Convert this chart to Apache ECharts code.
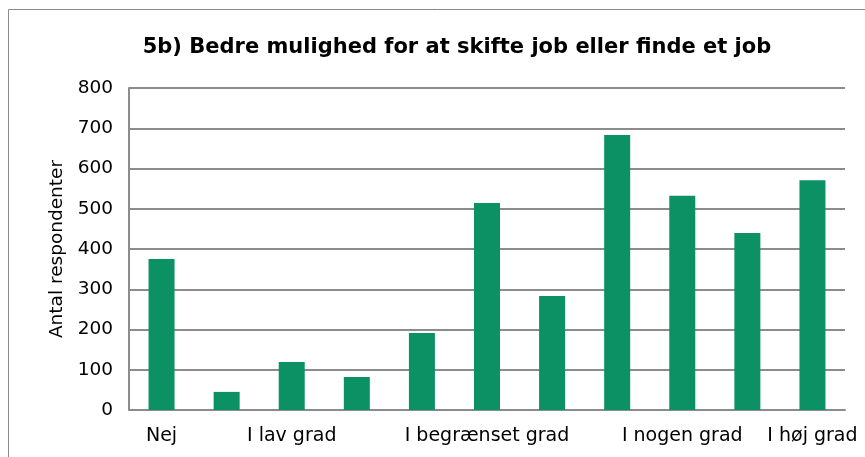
<!DOCTYPE html>
<html>
<head>
<meta charset="utf-8">
<script src="https://cdn.jsdelivr.net/npm/echarts@6/dist/echarts.min.js"></script>
<style>
  html, body { margin: 0; padding: 0; background: #fff; }
  #chart { width: 865px; height: 457px; }
</style>
</head>
<body>
<div id="chart"></div>
<script>
  // skala 0-10, kun nogle punkter har tekst
  const categories = ['Nej', '', 'I lav grad', '', '', 'I begrænset grad', '', '', 'I nogen grad', '', 'I høj grad']
  const values = [375, 45, 119, 82, 191, 514, 283, 683, 532, 440, 571]
  const yTicks = [0, 100, 200, 300, 400, 500, 600, 700, 800]

  const font = '"DejaVu Sans", Verdana, sans-serif'
  const chart = echarts.init(document.getElementById('chart'))

  chart.setOption({
    animation: false,
    title: {
      text: '5b) Bedre mulighed for at skifte job eller finde et job',
      left: 452,
      textAlign: 'center',
      top: 32,
      textStyle: { fontFamily: font, fontWeight: 'bold', fontSize: 21, color: '#000' },
    },
    graphic: [
      {
        type: 'rect',
        shape: { x: 8.5, y: 9.5, width: 900, height: 500 },
        style: { fill: 'none', stroke: '#8a8a8a', lineWidth: 1 },
        silent: true,
      },
    ],
    grid: { left: 129, right: 20, top: 88, bottom: 47 },
    xAxis: {
      type: 'category',
      data: categories,
      axisLine: { show: true, lineStyle: { color: '#8c8c8c', width: 2 } },
      axisTick: { show: false },
      axisLabel: { interval: 0, color: '#000', fontFamily: font, fontSize: 19, margin: 17 },
    },
    yAxis: {
      type: 'value',
      min: yTicks[0],
      max: yTicks[yTicks.length - 1],
      interval: 100,
      name: 'Antal respondenter',
      nameLocation: 'middle',
      nameGap: 60,
      nameTextStyle: { color: '#000', fontFamily: font, fontSize: 18.5 },
      axisLine: { show: true, lineStyle: { color: '#8c8c8c', width: 2 } },
      axisTick: { show: false },
      axisLabel: { color: '#000', fontFamily: font, fontSize: 18.5, margin: 16 },
      splitLine: { lineStyle: { color: '#8c8c8c', width: 2 } },
    },
    series: [
      {
        type: 'bar',
        data: values,
        barWidth: 26,
        itemStyle: { color: '#0b9163' },
      },
    ],
  })
</script>
</body>
</html>
